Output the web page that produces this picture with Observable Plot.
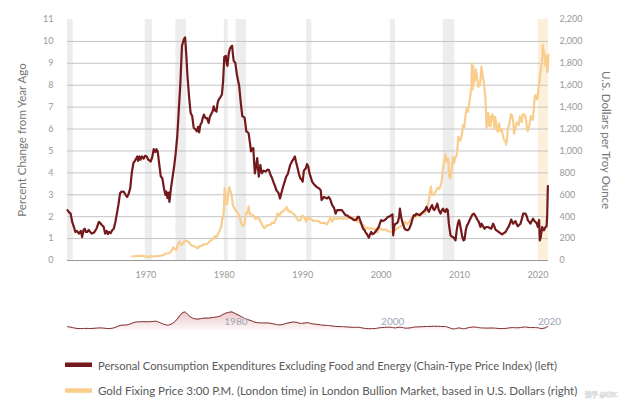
<!DOCTYPE html>
<html><head><meta charset="utf-8">
<script src="https://cdn.jsdelivr.net/npm/d3@7"></script>
<script src="https://cdn.jsdelivr.net/npm/@observablehq/plot@0.6"></script>
<style>
body{margin:0;background:#fff;}
#wrap{position:relative;width:623px;height:418px;overflow:hidden;font-family:Lato,"Noto Sans",sans-serif;}
#wrap svg{position:absolute;left:0;}
</style></head><body><div id="wrap"></div>
<script>
// ---- data ----
const pceYears = [1960.0,1960.2,1960.4,1960.6,1960.8,1961.0,1961.2,1961.45,1961.7,1961.87,1962.05,1962.2,1962.35,1962.5,1962.7,1962.9,1963.1,1963.4,1963.7,1964.0,1964.2,1964.4,1964.6,1964.8,1965.0,1965.15,1965.3,1965.5,1965.7,1965.9,1966.1,1966.3,1966.5,1966.7,1966.9,1967.2,1967.4,1967.6,1967.8,1968.0,1968.2,1968.4,1968.6,1968.9,1969.0,1969.2,1969.3,1969.5,1969.7,1969.9,1970.1,1970.3,1970.6,1970.8,1971.0,1971.2,1971.35,1971.5,1971.7,1971.9,1972.1,1972.3,1972.5,1972.6,1972.75,1972.9,1973.0,1973.2,1973.4,1973.6,1973.8,1974.0,1974.2,1974.4,1974.6,1974.85,1975.0,1975.15,1975.3,1975.5,1975.7,1975.9,1976.1,1976.3,1976.5,1976.65,1976.8,1976.95,1977.1,1977.25,1977.4,1977.6,1977.8,1978.0,1978.15,1978.3,1978.5,1978.65,1978.8,1979.0,1979.15,1979.3,1979.5,1979.7,1979.85,1980.0,1980.2,1980.3,1980.4,1980.55,1980.7,1980.85,1981.0,1981.1,1981.2,1981.4,1981.6,1981.9,1982.1,1982.3,1982.5,1982.6,1982.8,1983.0,1983.1,1983.3,1983.4,1983.55,1983.7,1983.8,1983.9,1984.05,1984.2,1984.3,1984.4,1984.5,1984.6,1984.7,1984.8,1985.0,1985.3,1985.5,1985.7,1985.9,1986.1,1986.3,1986.5,1986.65,1986.8,1986.95,1987.1,1987.3,1987.5,1987.7,1987.9,1988.1,1988.4,1988.6,1988.85,1989.0,1989.15,1989.3,1989.5,1989.7,1989.85,1990.0,1990.15,1990.4,1990.55,1990.7,1990.85,1991.0,1991.2,1991.5,1991.8,1992.1,1992.3,1992.4,1992.7,1993.1,1993.3,1993.5,1993.76,1994.0,1994.2,1994.4,1994.6,1995.0,1995.2,1995.46,1995.7,1995.9,1996.1,1996.3,1996.5,1996.74,1996.9,1997.0,1997.17,1997.3,1997.4,1997.55,1997.7,1997.85,1998.0,1998.2,1998.44,1998.6,1998.74,1998.9,1999.08,1999.25,1999.4,1999.55,1999.7,1999.85,2000.0,2000.2,2000.44,2000.65,2000.86,2001.05,2001.3,2001.45,2001.54,2001.7,2001.84,2002.0,2002.14,2002.3,2002.4,2002.55,2002.7,2002.85,2003.0,2003.2,2003.4,2003.6,2003.84,2004.0,2004.18,2004.35,2004.5,2004.7,2004.95,2005.15,2005.37,2005.6,2005.8,2005.95,2006.1,2006.3,2006.5,2006.65,2006.8,2007.0,2007.16,2007.35,2007.58,2007.75,2007.9,2008.05,2008.2,2008.35,2008.5,2008.64,2008.85,2009.0,2009.19,2009.35,2009.49,2009.65,2009.79,2009.95,2010.04,2010.2,2010.34,2010.5,2010.64,2010.8,2010.95,2011.1,2011.3,2011.49,2011.65,2011.83,2012.0,2012.12,2012.3,2012.46,2012.6,2012.68,2012.8,2012.95,2013.1,2013.19,2013.4,2013.61,2013.8,2014.04,2014.15,2014.29,2014.45,2014.59,2014.8,2015.02,2015.2,2015.44,2015.65,2015.87,2016.1,2016.29,2016.45,2016.59,2016.75,2016.84,2017.0,2017.14,2017.3,2017.44,2017.6,2017.78,2017.95,2018.12,2018.3,2018.42,2018.6,2018.71,2018.9,2019.05,2019.2,2019.39,2019.55,2019.69,2019.85,2019.99,2020.1,2020.15,2020.24,2020.35,2020.54,2020.65,2020.76,2020.97,2021.1,2021.18,2021.27];
const pceValues = [2.30,2.2,2.14,1.76,1.55,1.30,1.35,1.23,1.35,1.07,1.40,1.45,1.30,1.30,1.40,1.30,1.23,1.28,1.45,1.76,1.70,1.61,1.55,1.23,1.35,1.20,1.30,1.25,1.38,1.45,1.75,2.14,2.55,3.06,3.15,3.13,3.00,2.90,3.05,3.29,4.00,4.44,4.55,4.75,4.55,4.75,4.60,4.75,4.65,4.78,4.75,4.60,4.52,4.70,5.08,4.95,5.08,4.98,4.40,3.83,3.75,3.30,2.99,3.15,2.85,3.10,2.68,3.30,3.80,4.29,4.90,5.67,6.90,8.12,9.80,10.10,10.18,9.40,8.42,7.50,6.74,6.60,6.05,6.00,5.90,6.10,5.85,6.20,6.28,6.50,6.66,6.50,6.50,6.28,6.55,6.66,6.80,7.04,6.85,6.80,7.20,7.35,7.45,7.58,8.20,9.30,9.34,9.00,8.88,9.40,9.65,9.75,9.80,9.40,9.11,9.03,8.50,7.96,7.20,6.58,6.55,6.50,5.90,5.85,5.80,5.30,4.98,5.10,5.13,4.50,3.98,4.30,4.67,4.20,3.83,4.10,4.36,4.10,3.98,4.10,4.06,4.15,4.13,3.90,3.75,3.55,3.37,3.20,3.14,3.05,2.83,3.10,3.37,3.60,3.83,3.95,4.36,4.50,4.65,4.75,4.50,4.29,3.98,3.75,3.70,3.60,4.10,4.21,4.40,4.30,4.00,3.83,3.60,3.45,3.35,3.29,3.20,2.76,2.90,2.83,2.90,2.80,2.53,2.40,2.14,2.30,2.30,2.30,2.20,2.07,2.05,1.99,1.95,1.91,1.85,1.84,1.90,1.99,1.99,1.85,1.76,1.60,1.45,1.40,1.30,1.20,1.04,1.20,1.30,1.20,1.23,1.30,1.38,1.45,1.53,1.70,1.84,1.80,1.84,1.90,1.99,2.00,2.07,2.10,1.15,1.60,1.68,1.70,1.76,2.00,2.37,2.00,1.76,1.60,1.45,1.40,1.38,1.45,1.68,1.90,2.07,2.05,2.14,2.10,2.07,2.15,2.22,2.30,2.45,2.30,2.22,2.40,2.53,2.35,2.30,2.45,2.60,2.30,2.14,2.30,2.37,2.25,2.22,2.35,2.30,1.68,1.15,1.10,1.07,1.00,0.92,1.40,1.68,1.84,1.70,1.38,1.10,0.92,0.95,1.38,1.60,1.68,1.85,1.99,2.10,2.14,2.05,1.97,1.85,1.76,1.60,1.53,1.68,1.60,1.50,1.45,1.53,1.53,1.50,1.45,1.55,1.68,1.55,1.41,1.35,1.30,1.25,1.19,1.25,1.30,1.45,1.56,1.70,1.87,1.75,1.68,1.75,1.80,1.65,1.56,1.62,1.68,1.90,2.14,2.14,2.14,2.00,1.84,1.75,1.68,1.80,1.91,1.80,1.76,1.70,1.53,1.75,1.85,0.92,1.05,1.53,1.45,1.38,1.53,1.55,2.00,3.40];

const goldYears = [1968.25,1968.5,1968.75,1969.0,1969.25,1969.5,1969.75,1970.0,1970.25,1970.5,1970.75,1971.0,1971.25,1971.5,1971.75,1972.0,1972.25,1972.5,1972.75,1973.0,1973.25,1973.5,1973.75,1973.9,1974.1,1974.3,1974.5,1974.75,1974.95,1975.2,1975.5,1975.75,1976.0,1976.3,1976.6,1976.85,1977.1,1977.4,1977.7,1977.95,1978.2,1978.5,1978.8,1978.95,1979.2,1979.45,1979.6,1979.75,1979.85,1979.95,1980.04,1980.12,1980.2,1980.35,1980.5,1980.65,1980.8,1980.95,1981.1,1981.3,1981.5,1981.7,1981.95,1982.2,1982.45,1982.6,1982.75,1982.9,1983.1,1983.25,1983.5,1983.75,1983.95,1984.2,1984.45,1984.7,1984.95,1985.1,1985.35,1985.6,1985.9,1986.1,1986.35,1986.6,1986.8,1987.0,1987.25,1987.5,1987.75,1987.95,1988.2,1988.45,1988.7,1988.95,1989.2,1989.45,1989.7,1989.95,1990.2,1990.45,1990.65,1990.85,1991.1,1991.35,1991.6,1991.85,1992.1,1992.35,1992.6,1992.85,1993.1,1993.4,1993.55,1993.75,1994.0,1994.3,1994.55,1994.8,1995.0,1995.3,1995.55,1995.8,1996.05,1996.3,1996.55,1996.8,1997.0,1997.3,1997.55,1997.8,1998.0,1998.3,1998.55,1998.8,1999.0,1999.3,1999.55,1999.8,2000.0,2000.3,2000.55,2000.8,2001.05,2001.3,2001.55,2001.8,2002.05,2002.3,2002.55,2002.8,2003.05,2003.3,2003.55,2003.8,2004.05,2004.3,2004.55,2004.8,2005.05,2005.3,2005.55,2005.8,2005.95,2006.1,2006.35,2006.5,2006.75,2006.95,2007.2,2007.45,2007.7,2007.85,2008.0,2008.2,2008.35,2008.55,2008.7,2008.85,2009.0,2009.15,2009.3,2009.45,2009.6,2009.7,2009.85,2010.0,2010.1,2010.3,2010.45,2010.6,2010.8,2010.95,2011.05,2011.3,2011.42,2011.5,2011.58,2011.66,2011.75,2011.85,2011.95,2012.1,2012.25,2012.4,2012.55,2012.65,2012.8,2012.95,2013.1,2013.3,2013.45,2013.55,2013.65,2013.75,2013.85,2013.95,2014.1,2014.2,2014.35,2014.45,2014.55,2014.7,2014.85,2014.95,2015.05,2015.2,2015.4,2015.55,2015.7,2015.85,2015.95,2016.05,2016.15,2016.35,2016.55,2016.7,2016.85,2016.95,2017.05,2017.2,2017.35,2017.45,2017.55,2017.7,2017.85,2017.95,2018.05,2018.3,2018.5,2018.6,2018.7,2018.85,2018.95,2019.1,2019.35,2019.45,2019.6,2019.7,2019.85,2019.95,2020.05,2020.15,2020.25,2020.35,2020.45,2020.55,2020.62,2020.7,2020.8,2020.87,2020.95,2021.05,2021.12,2021.2,2021.27,2021.33];
const goldPrices = [38,39,40,42,43,42,40,35,35.5,35.3,37,38,39,41,42,46,49,62,64,66,88,120,100,98,150,172,143,155,183,178,165,142,132,128,110,130,134,148,148,161,180,190,223,208,242,280,300,397,392,459,660,560,520,517,615,670,630,590,500,480,450,440,400,330,314,340,430,430,492,420,420,410,380,390,380,345,310,295,315,325,325,345,340,385,430,410,440,450,465,487,445,450,430,420,390,365,365,410,395,355,395,380,380,360,365,360,355,340,345,340,330,370,400,355,385,380,385,390,380,385,385,385,400,392,385,380,355,345,330,320,290,300,290,295,287,285,256,300,285,280,285,270,265,260,270,275,290,305,315,320,355,330,350,380,405,400,400,425,425,430,430,465,510,555,675,600,600,630,665,655,710,805,890,968,905,930,760,750,830,943,890,945,950,996,1128,1115,1095,1150,1233,1215,1342,1391,1356,1460,1529,1560,1800,1560,1772,1620,1652,1742,1665,1586,1595,1627,1770,1688,1627,1485,1210,1300,1348,1230,1316,1225,1300,1336,1288,1200,1311,1241,1176,1201,1251,1179,1199,1131,1100,1086,1060,1097,1200,1242,1337,1326,1274,1157,1192,1231,1260,1250,1236,1315,1280,1265,1331,1335,1282,1202,1180,1215,1250,1320,1284,1359,1500,1510,1470,1480,1560,1600,1683,1730,1780,1846,1968,1922,1900,1866,1780,1867,1808,1718,1760,1880];

const recessionStart = [1960.0,1969.92,1973.83,1980.0,1981.5,1990.5,2001.17,2007.92];
const recessionEnd   = [1960.72,1970.83,1975.17,1980.5,1982.83,1991.17,2001.83,2009.42];
const currentStart = [2020.05];
const currentEnd   = [2021.35];

const xTicks = [1970,1980,1990,2000,2010,2020];
const navTicks = [1980,2000,2020];
const leftTicks = [0,1,2,3,4,5,6,7,8,9,10,11];
const gridTicks = [1,2,3,4,5,6,7,8,9,10];
const rightTickValues = [0,200,400,600,800,1000,1200,1400,1600,1800,2000,2200];

const leftTitle = "Percent Change from Year Ago";
const rightTitle = "U.S. Dollars per Troy Ounce";
const legendLabels = [
  "Personal Consumption Expenditures Excluding Food and Energy (Chain-Type Price Index) (left)",
  "Gold Fixing Price 3:00 P.M. (London time) in London Bullion Market, based in U.S. Dollars (right)"
];
const watermark = "知乎 @EBC";

// ---- build tables ----
const pce = pceYears.map((x, i) => ({year: x, value: pceValues[i]}));
const gold = goldYears.map((x, i) => ({year: x, price: goldPrices[i]}));
const recessions = recessionStart.map((s, i) => ({s, e: recessionEnd[i]}));
const current = currentStart.map((s, i) => ({s, e: currentEnd[i]}));
const goldRatio = rightTickValues[1] / leftTicks[1];

const PCE_COLOR = "#74191b";
const GOLD_COLOR = "#f9cd8c";
const FONT = "Lato, 'Noto Sans', sans-serif";
const wrap = document.getElementById("wrap");
const xDomain = [1960, 2021.35];

const main = Plot.plot({
  width: 623, height: 285,
  marginTop: 19, marginBottom: 25, marginLeft: 67, marginRight: 75,
  x: {domain: xDomain, axis: null},
  y: {domain: [0, 11], axis: null},
  style: {fontFamily: FONT, background: "transparent", overflow: "visible"},
  marks: [
    Plot.rect(recessions, {x1: "s", x2: "e", fill: "#ededed"}),
    Plot.rect(current, {x1: "s", x2: "e", fill: "#fcefdb"}),
    Plot.ruleY(gridTicks, {stroke: "#c4c4c4", strokeWidth: 1}),
    Plot.ruleY([0], {stroke: "#999", strokeWidth: 1}),
    Plot.axisX({ticks: xTicks, tickFormat: d => String(d), tickSize: 0, tickPadding: 11, fontSize: 9, color: "#999", label: null}),
    Plot.axisY({ticks: leftTicks, tickFormat: d => String(d), tickSize: 0, tickPadding: 14, fontSize: 9, color: "#999", label: null}),
    Plot.axisY({anchor: "right", ticks: leftTicks, tickFormat: d => d3.format(",")(d * goldRatio), tickSize: 0, tickPadding: 11, fontSize: 9, color: "#999", label: null}),
    Plot.lineY(gold, {x: "year", y: d => d.price / goldRatio, stroke: GOLD_COLOR, strokeWidth: 2.2}),
    Plot.lineY(pce, {x: "year", y: "value", stroke: PCE_COLOR, strokeWidth: 2.2}),
    Plot.text([leftTitle], {frameAnchor: "left", textAnchor: "middle", dx: -45, rotate: -90, fontSize: 11.5, fill: "#777"}),
    Plot.text([rightTitle], {frameAnchor: "right", textAnchor: "middle", dx: 57, rotate: 90, fontSize: 11.5, fill: "#777"})
  ]
});
main.style.top = "0px";
wrap.appendChild(main);

const nav = Plot.plot({
  width: 623, height: 40,
  marginTop: 8.6, marginBottom: 9.4, marginLeft: 67, marginRight: 75,
  x: {domain: xDomain, axis: null},
  y: {domain: [0, 11], axis: null},
  style: {fontFamily: FONT, background: "transparent", overflow: "visible"},
  marks: [
    Plot.areaY(pce, Plot.windowY({k: 5, reduce: "mean"}, {x: "year", y: "value", fill: "url(#navgrad)", curve: "basis"})),
    Plot.lineY(pce, Plot.windowY({k: 5, reduce: "mean"}, {x: "year", y: "value", stroke: "#7b2426", strokeWidth: 1, curve: "basis"})),
    Plot.text(navTicks, {x: d => d, text: d => String(d), frameAnchor: "bottom", dy: -6, textAnchor: "start", fontSize: 10, fill: "#9ea6b6"})
  ]
});
d3.select(nav).insert("defs", ":first-child").html(
  '<linearGradient id="navgrad" x1="0" y1="0" x2="0" y2="1">' +
  '<stop offset="0" stop-color="#c0393d" stop-opacity="0.28"/>' +
  '<stop offset="1" stop-color="#c0393d" stop-opacity="0.03"/></linearGradient>');
nav.style.top = "300px";
wrap.appendChild(nav);

// legend (font sizes fitted so each text's natural width matches the reference)
const leg = d3.create("svg").attr("width", 623).attr("height", 68)
  .style("top", "350px").style("font-family", FONT);
wrap.appendChild(leg.node());
const legColors = [PCE_COLOR, GOLD_COLOR];
const legWidths = [459, 480];
function fitText(sel, target, base) {
  const w = sel.node().getComputedTextLength();
  if (w > 0) sel.attr("font-size", (base * target / w).toFixed(2));
}
legendLabels.forEach((t, i) => {
  const y0 = 12.5 + i * 25.8;
  leg.append("rect").attr("x", 65).attr("y", y0).attr("width", 27).attr("height", 4.5).attr("fill", legColors[i]);
  const tx = leg.append("text").attr("x", 98).attr("y", y0 + 7).attr("font-size", 12).attr("fill", "#595959").text(t);
  fitText(tx, legWidths[i], 12);
});
const wm = leg.append("text").attr("x", 585).attr("y", 46.5).attr("font-size", 10)
  .attr("font-family", "'Noto Sans CJK SC', sans-serif")
  .attr("fill", "#f2f2f2").attr("stroke", "#bdbdbd").attr("stroke-width", 0.5)
  .attr("paint-order", "stroke").text(watermark);
fitText(wm, 33, 10);
</script></body></html>
